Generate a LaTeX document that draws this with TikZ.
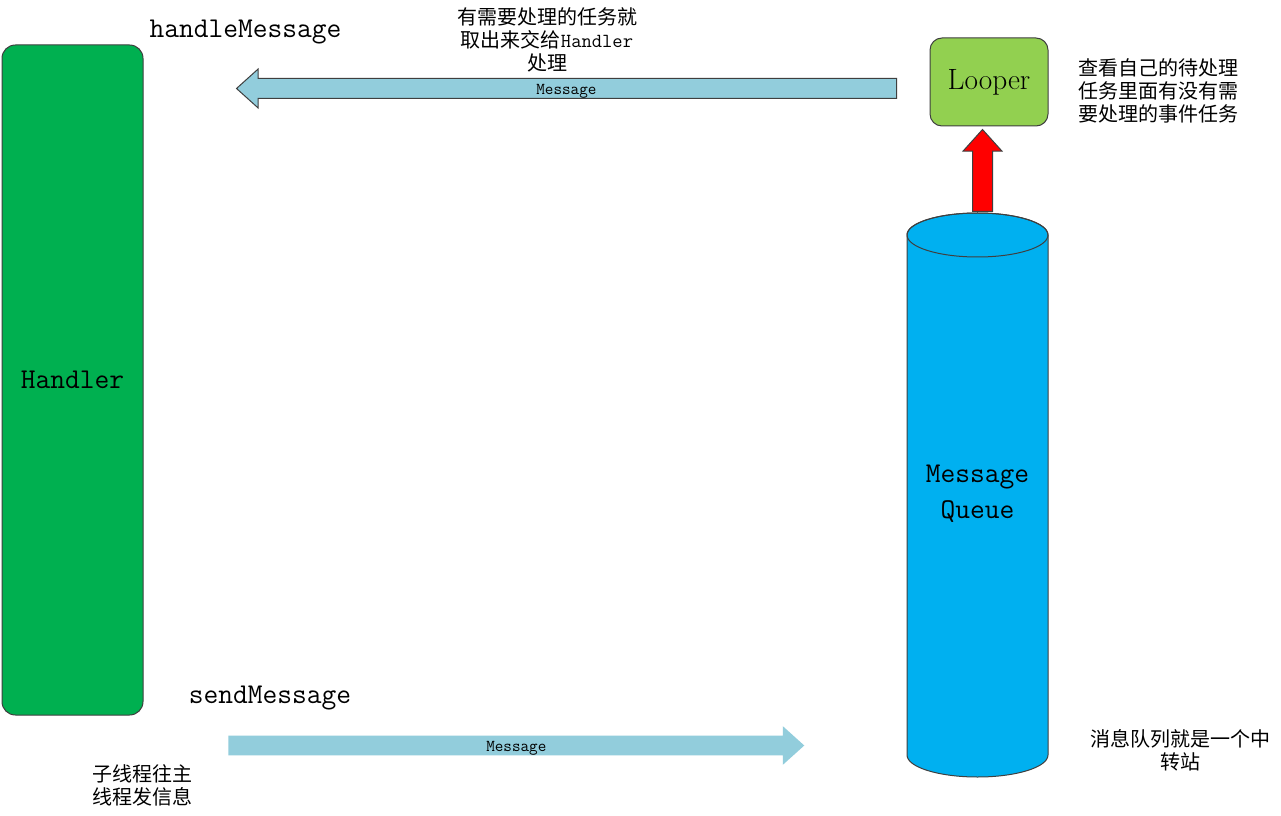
\documentclass[tikz,border=0pt]{standalone}
\usepackage{fontspec}
\newfontfamily\cjk{Noto Sans CJK SC}
\usetikzlibrary{shapes.arrows}
\definecolor{handlergreen}{HTML}{00B050}
\definecolor{loopergreen}{HTML}{92D050}
\definecolor{queueblue}{HTML}{00B0F0}
\definecolor{arrowblue}{HTML}{92CDDC}
\definecolor{edgegray}{HTML}{3F3F3F}
\tikzset{
  box/.style = {draw=edgegray, line width=0.75pt, rounded corners=9pt},
  blockarrow/.style = {single arrow, fill=arrowblue, inner sep=0pt,
    single arrow head extend=7.125pt, single arrow tip angle=84,
    text width=0pt, text height=14.25pt, text depth=0pt},
  arrowlabel/.style = {font=\ttfamily\fontsize{12.5}{14}\selectfont, inner sep=0pt, yshift=-2pt},
  title/.style = {font=\ttfamily\fontsize{21.5}{27}\selectfont, inner sep=0pt},
  note/.style = {font=\cjk\fontsize{15}{17.25}\selectfont, align=center, inner sep=0pt}
}
\begin{document}
\begin{tikzpicture}[x=0.75pt, y=-0.75pt]
\useasboundingbox[fill=white] (0,0) rectangle (1281,816);
\node[box, fill=handlergreen, rounded corners=10pt, minimum width=105.75pt, minimum height=502.5pt, title] (handler) at (72.5,380) {Handler};
\node[box, fill=loopergreen, minimum width=88.5pt, minimum height=66pt, font=\fontsize{22}{26}\selectfont] (looper) at (989,82) {Looper};
\fill[queueblue, draw=edgegray, line width=0.75pt] (907,235) -- (907,755) arc[start angle=180, end angle=0, x radius=70.5, y radius=22] -- (1048,235) arc[start angle=0, end angle=-180, x radius=70.5, y radius=22] -- cycle;
\draw[edgegray, line width=0.75pt] (977.5,235) ellipse[x radius=70.5, y radius=22];
\node[title, align=center] (queue) at (977.5,494) {Message\\Queue};
\node[blockarrow, draw=edgegray, line width=0.75pt, shape border rotate=180, minimum height=495pt, anchor=tail] (fetch) at (897,88.5) {};
\node[blockarrow, minimum height=432pt, anchor=tail] (send) at (228,745.5) {};
\node[blockarrow, fill=red, draw=edgegray, line width=0.75pt, shape border rotate=90, minimum height=61.5pt, text width=14.25pt, anchor=tail] (poll) at (982.5,212) {};
\path (fetch.tip) -- (fetch.tail) node[midway, arrowlabel] (fetchlabel) {Message};
\path (send.tail) -- (send.tip) node[midway, arrowlabel] (sendlabel) {Message};
\node[title] (handlemsg) at (245.5,32) {handleMessage};
\node[title] (sendmsg) at (270,698) {sendMessage};
\node[note] (fetchnote) at (547,40) {有需要处理的任务就\\取出来交给{\ttfamily Handler}\\处理};
\node[note, align=left, anchor=west] (loopnote) at (1078,91) {查看自己的待处理\\任务里面有没有需\\要处理的事件任务};
\node[note] (queuenote) at (1180,750) {消息队列就是一个中\\转站};
\node[note] (sendnote) at (142.5,785) {子线程往主\\线程发信息};
\end{tikzpicture}
\end{document}
